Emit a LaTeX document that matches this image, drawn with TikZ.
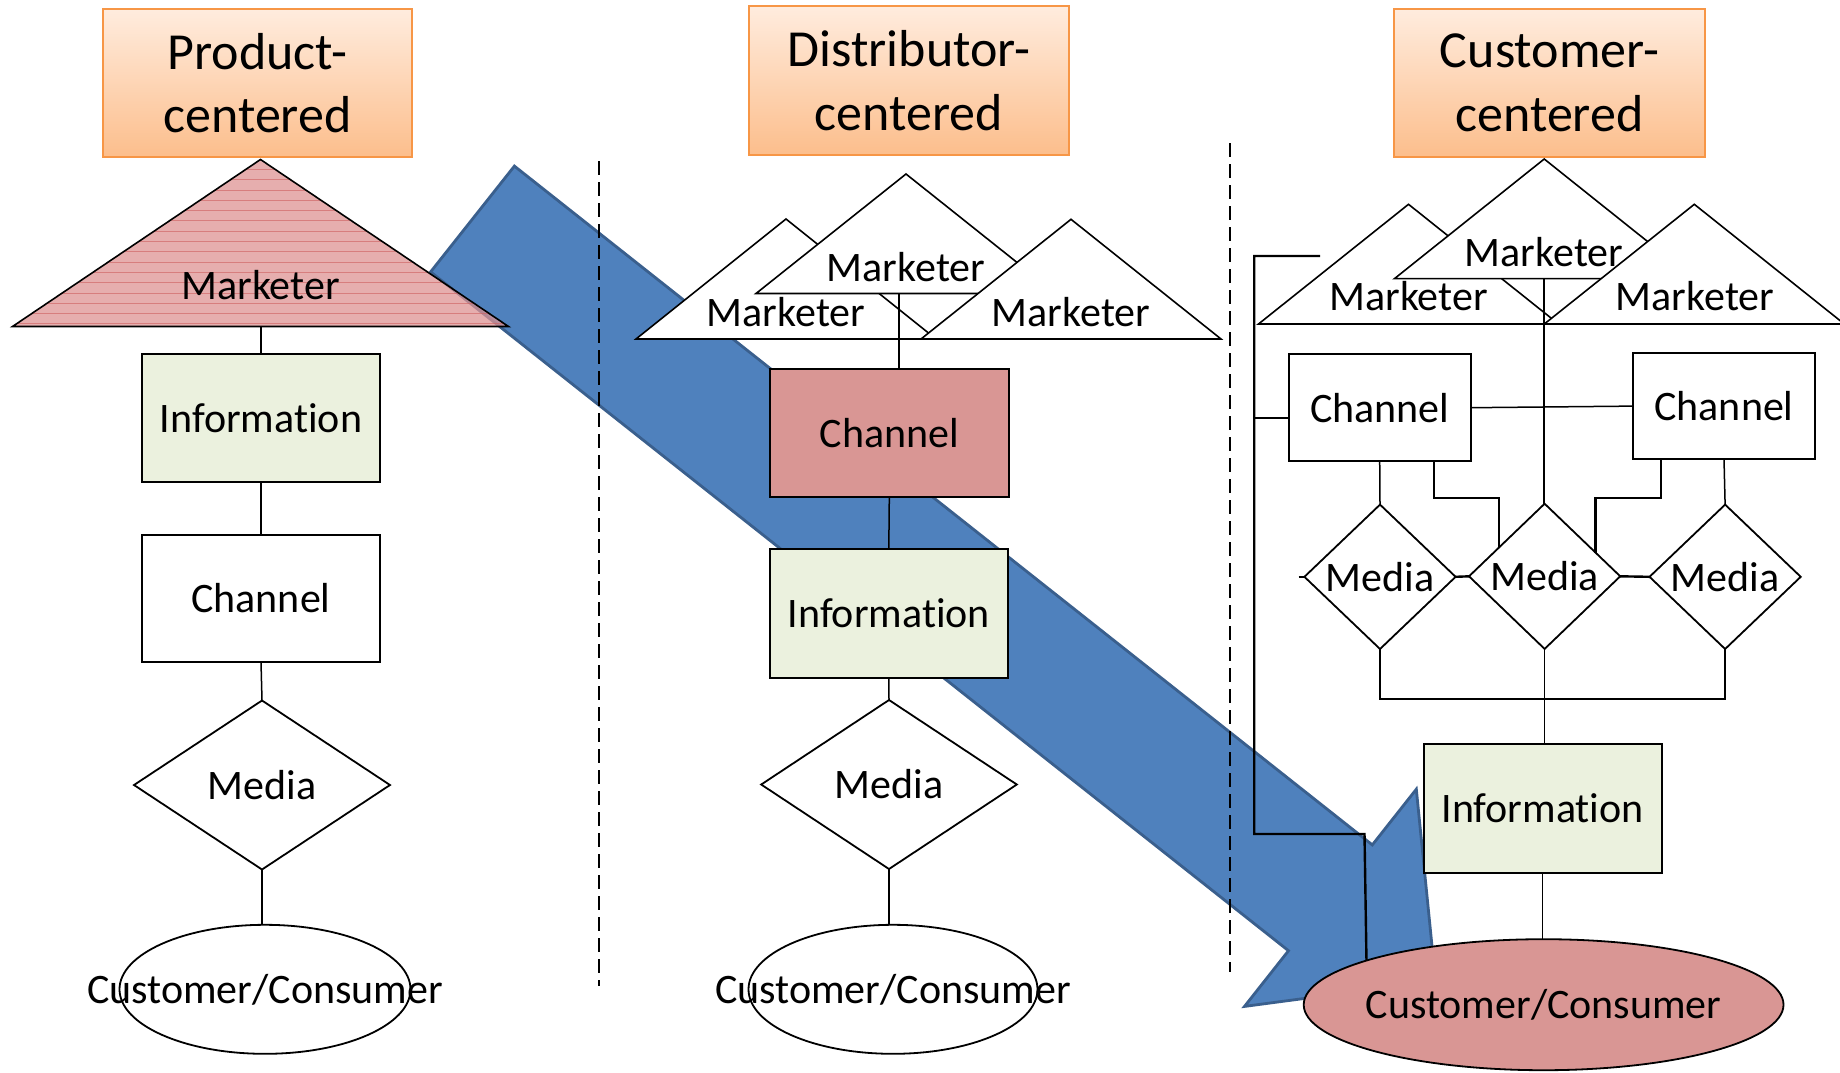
\documentclass[tikz,border=0pt]{standalone}
\usepackage{fontspec}
\setmainfont{Carlito}[Ligatures=NoCommon]
\usetikzlibrary{shapes.geometric}

\definecolor{hdrtop}{RGB}{255,236,222}
\definecolor{hdrbot}{RGB}{252,190,140}
\definecolor{hdrline}{RGB}{247,150,70}
\definecolor{infofill}{RGB}{235,241,222}
\definecolor{rosefill}{RGB}{217,150,148}
\definecolor{flowfill}{RGB}{79,129,189}
\definecolor{flowline}{RGB}{58,95,141}
\definecolor{hatchfill}{RGB}{222,148,148}
\definecolor{hatchline}{RGB}{205,95,95}

\begin{document}
\begin{tikzpicture}[x=0.5pt,y=-0.5pt,
  every node/.style={font=\fontsize{21}{25.6}\selectfont, inner sep=0pt, outer sep=0pt},
  header/.style={draw=hdrline, line width=1pt, top color=hdrtop, bottom color=hdrbot,
                 align=center, font=\fontsize{26}{31.7}\selectfont},
  box/.style={draw, line width=1pt, rectangle},
  infobox/.style={box, fill=infofill},
  rosebox/.style={box, fill=rosefill},
  plainbox/.style={box, fill=white},
  media/.style={draw, line width=0.9pt, diamond, fill=white},
  party/.style={draw, line width=0.9pt, ellipse, fill=white},
  tri/.style={draw, line width=0.8pt, fill=white, line join=miter},
  link/.style={line width=0.75pt},
  heavylink/.style={line width=1.2pt},
  divider/.style={line width=1pt, dash pattern=on 7pt off 3.5pt},
  flow/.style={fill=flowfill, draw=flowline, line width=1.4pt, line join=miter}
]
\useasboundingbox (0,0) rectangle (1840,1072);
\fill[white] (0,0) rectangle (1840,1072);

% broad arrow showing the shift of focus towards the customer
\draw[flow] (514.4,166.1) -- (1372.3,844.9) -- (1416.3,789.2) -- (1435.5,981)
  -- (1244.5,1006.4) -- (1288.5,950.7) -- (430.6,271.9) -- cycle;

% dashed separators between the three models
\coordinate (divAtop) at (598.5,161);
\coordinate (divAbot) at (598.5,986);
\coordinate (divBtop) at (1229.8,143);
\coordinate (divBbot) at (1229.8,972);
\draw[divider] (divAtop) -- (divAbot);
\draw[divider] (divBtop) -- (divBbot);

% ---------------- product-centered ----------------
\node[header, minimum width=154.5pt, minimum height=74pt] (hdrL) at (257.5,83) {Product-\\centered};

\fill[hatchfill, fill opacity=0.75] (12.5,326.5) -- (260.5,159.5) -- (508.5,326.5) -- cycle;
\begin{scope}
  \clip (12.5,326.5) -- (260.5,159.5) -- (508.5,326.5) -- cycle;
  \foreach \yy in {169.3,179.6,...,326.5}
    \draw[hatchline, line width=0.4pt, opacity=0.6] (0,\yy) -- (520,\yy);
\end{scope}
\draw[line width=0.8pt, line join=miter] (12.5,326.5) -- (260.5,159.5) -- (508.5,326.5) -- cycle;
\node (mkL) at (260.5,285) {Marketer};
\coordinate (mkLfoot) at (261,326.5);

\node[infobox, minimum width=119pt, minimum height=64pt] (infoL) at (261,418) {Information};
\node[plainbox, minimum width=119pt, minimum height=63.5pt] (chanL) at (261,598.5) {Channel};
\node[media, minimum width=128pt, minimum height=84.5pt] (mediaL) at (262,785) {Media};
\node[party, minimum width=145.5pt, minimum height=64.5pt,
      label={[name=custLtext]center:Customer/Consumer}] (custL) at (265,989.3) {};

\draw[link] (mkLfoot) -- (infoL.north);
\draw[link] (infoL.south) -- (chanL.north);
\draw[link] (chanL.south) -- (mediaL.north);
\draw[link] (mediaL.south) -- (mediaL.south |- custL.north);

% ---------------- distributor-centered ----------------
\node[header, minimum width=160pt, minimum height=74.5pt] (hdrM) at (909,80.5) {Distributor-\\centered};

\draw[tri] (636,339) -- (786,219) -- (936,339) -- cycle;
\node (mkM1) at (786,311.7) {Marketer};
\draw[tri] (756,293.5) -- (906,174) -- (1056,293.5) -- cycle;
\node (mkM2) at (906,266.7) {Marketer};
\draw[tri] (921,339) -- (1071,219.3) -- (1221,339) -- cycle;
\node (mkM3) at (1071,311.7) {Marketer};
\coordinate (mkMfoot) at (899,293.5);

\node[rosebox, minimum width=119.25pt, minimum height=64pt] (chanM) at (889.3,433.3) {Channel};
\node[infobox, minimum width=119pt, minimum height=64.3pt] (infoM) at (888.8,613.3) {Information};
\node[media, minimum width=127.8pt, minimum height=84.5pt] (mediaM) at (889,784.5) {Media};
\node[party, minimum width=144.5pt, minimum height=64.5pt,
      label={[name=custMtext]center:Customer/Consumer}] (custM) at (893,989.3) {};

\draw[link] (mkMfoot) -- (mkMfoot |- chanM.north);
\draw[link] (chanM.south) -- (infoM.north);
\draw[link] (infoM.south) -- (mediaM.north);
\draw[link] (mediaM.south) -- (mediaM.south |- custM.north);

% ---------------- customer-centered ----------------
\node[header, minimum width=155.5pt, minimum height=74pt] (hdrR) at (1549.5,83) {Customer-\\centered};

\draw[tri] (1258.5,324) -- (1408.5,204.3) -- (1558.5,324) -- cycle;
\node (mkR1) at (1408.5,296) {Marketer};
\draw[tri] (1394.5,278.6) -- (1544.2,159) -- (1694,278.6) -- cycle;
\node (mkR2) at (1544,252) {Marketer};
\draw[tri] (1544.3,324) -- (1694.3,204.3) -- (1844.3,324) -- cycle;
\node (mkR3) at (1695,296) {Marketer};
\coordinate (mkRfoot) at (1544.2,278.6);

\node[plainbox, minimum width=91.1pt, minimum height=53.4pt] (chanR1) at (1379.7,407.7) {Channel};
\node[plainbox, minimum width=90.9pt, minimum height=53.2pt] (chanR2) at (1724,406.1) {Channel};
\node[media, minimum width=75.6pt, minimum height=72.2pt] (mdR1) at (1380,576.8) {Media};
\node[media, minimum width=75.6pt, minimum height=72.6pt] (mdR2) at (1544.6,576.3) {Media};
\node[media, minimum width=75.6pt, minimum height=72.2pt] (mdR3) at (1725.1,576.8) {Media};
\node[infobox, minimum width=119.1pt, minimum height=64.5pt] (infoR) at (1542.6,808.6) {Information};
\node[party, fill=rosefill, minimum width=239.9pt, minimum height=65.5pt,
      label={[name=custRtext]center:Customer/Consumer}] (custR) at (1543.6,1004.7) {};

% marketer trunk, channels and media
\draw[link] (mkRfoot) -- (mkRfoot |- mdR2.north);
\draw[link] (chanR1.east) -- (chanR2.west);
\draw[link] (chanR1.south) -- (mdR1.north);
\draw[link] (chanR2.south) -- (mdR3.north);
\draw[heavylink] ([xshift=-18.4pt]chanR1.south east) -- ++(0,37.1) -| (mdR2.148.5);
\draw[heavylink] ([xshift=13.8pt]chanR2.south west) -- ++(0,38.9) -| (mdR2.25.6);
\draw[heavylink] (mdR1.east) -- (mdR2.west);
\draw[heavylink] (mdR2.east) -- (mdR3.west);
\coordinate (stub) at (1298.5,576.8);
\draw[link] (stub) -- (mdR1.west);
\draw[link] (mdR1.south) -- ++(0,50) -| (mdR3.south);
\draw[link] (mdR2.south) -- (mdR2.south |- infoR.north);
\draw[link] (infoR.south) -- (infoR.south |- custR.north);

% direct line from the marketer side to the customer
\coordinate (brTop) at (1320,256);
\coordinate (brA) at (1254.2,256);
\coordinate (brMid) at (1254.2,418);
\coordinate (brB) at (1254.2,834);
\coordinate (brC) at (1364.5,834);
\draw[heavylink] (brTop) -- (brA) -- (brB) -- (brC) -- (custR.166.4);
\draw[link] (brMid) -- (chanR1.west |- brMid);
\end{tikzpicture}
\end{document}
